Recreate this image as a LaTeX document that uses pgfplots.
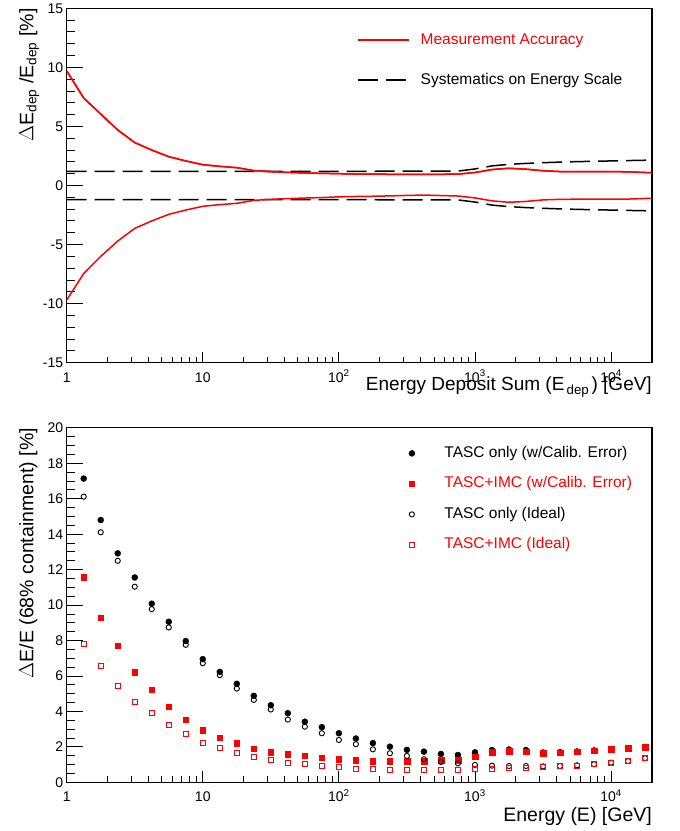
\documentclass[border=0pt]{standalone}
\usepackage{fontspec}
\setmainfont{Liberation Sans}
\usepackage{pgfplots}
\usepackage{pgfplotstable}
\pgfplotsset{compat=1.18}

% top panel: measurement accuracy (upper / lower) and systematics
\pgfplotstableread{
x      up     lo
1      9.70  -9.70
1.3335 7.40  -7.45
1.7783 6.05  -6.00
2.3714 4.70  -4.70
3.1623 3.63  -3.63
4.2170 3.00  -3.00
5.6234 2.44  -2.44
7.4989 2.08  -2.08
10     1.76  -1.76
13.335 1.62  -1.62
17.783 1.51  -1.51
23.714 1.26  -1.26
31.623 1.17  -1.17
42.170 1.11  -1.11
56.234 1.06  -1.06
74.989 1.03  -1.02
100    1.00  -0.96
133.35 0.97  -0.93
177.83 0.96  -0.91
237.14 0.95  -0.88
316.23 0.95  -0.84
421.70 0.95  -0.81
562.34 0.95  -0.85
749.89 0.96  -0.89
1000   1.10  -1.05
1333.5 1.35  -1.30
1778.3 1.46  -1.42
2371.4 1.38  -1.35
3162.3 1.25  -1.22
4217.0 1.18  -1.17
5623.4 1.17  -1.16
7498.9 1.17  -1.16
10000  1.17  -1.16
13335  1.16  -1.15
17783  1.10  -1.10
20000  1.08  -1.09
}\accuracy

\pgfplotstableread{
x      up    lo
1      1.20 -1.20
100    1.20 -1.20
749.89 1.22 -1.22
1000   1.40 -1.40
1333.5 1.66 -1.66
1778.3 1.79 -1.79
2371.4 1.87 -1.87
3162.3 1.93 -1.93
4217.0 1.98 -1.98
5623.4 2.02 -2.02
7498.9 2.05 -2.05
10000  2.08 -2.08
13335  2.11 -2.11
20000  2.15 -2.15
}\syst

% bottom panel: resolution
\pgfplotstableread{
x      bf     rf     bo     ro
1.3335 17.14  11.56  16.12  7.78
1.7783 14.80  9.28   14.11  6.57
2.3714 12.92  7.72   12.50  5.46
3.1623 11.56  6.20   11.04  4.56
4.2170 10.08  5.22   9.77   3.92
5.6234 9.06   4.26   8.74   3.26
7.4989 7.97   3.54   7.76   2.71
10     6.95   2.94   6.72   2.24
13.335 6.23   2.52   6.05   1.94
17.783 5.56   2.22   5.29   1.68
23.714 4.88   1.90   4.65   1.45
31.623 4.35   1.69   4.11   1.26
42.170 3.90   1.58   3.54   1.09
56.234 3.42   1.50   3.14   1.02
74.989 3.11   1.39   2.77   0.90
100    2.77   1.32   2.39   0.84
133.35 2.47   1.26   2.15   0.77
177.83 2.21   1.20   1.86   0.73
237.14 2.01   1.19   1.64   0.72
316.23 1.83   1.20   1.49   0.72
421.70 1.73   1.20   1.30   0.70
562.34 1.60   1.25   1.15   0.70
749.89 1.54   1.24   1.07   0.70
1000   1.69   1.45   0.98   0.74
1333.5 1.82   1.69   0.94   0.78
1778.3 1.85   1.77   0.92   0.79
2371.4 1.82   1.73   0.92   0.81
3162.3 1.68   1.64   0.90   0.87
4217.0 1.70   1.68   0.92   0.92
5623.4 1.74   1.73   0.96   0.94
7498.9 1.80   1.79   1.02   1.02
10000  1.87   1.86   1.11   1.11
13335  1.93   1.92   1.20   1.20
17783  1.99   1.98   1.36   1.36
}\resol

\begin{document}
\begin{tikzpicture}

\begin{axis}[
  width=585.3pt, height=354.4pt, scale only axis,
  at={(66.7pt,468.3pt)}, anchor=south west,
  xmode=log, xmin=1, xmax=20000,
  ymin=-15, ymax=15,
  xtick={1,10,100,1000,10000},
  xticklabels={1,10,10\textsuperscript{2},10\textsuperscript{3},10\textsuperscript{4}},
  ytick={-15,-10,-5,0,5,10,15},
  yticklabels={-15,-10,-5,0,5,10,15},
  minor y tick num=4,
  xtick pos=bottom, ytick pos=left, tick align=inside,
  major tick length=16.5pt, minor tick length=8.3pt,
  every major x tick/.append style={/pgfplots/major tick length=11pt},
  every minor x tick/.append style={/pgfplots/minor tick length=6pt},
  axis line style={line width=1.1pt},
  tick style={black, line width=0.9pt},
  ticklabel style={font=\fontsize{14}{17}\selectfont},
  xticklabel style={anchor=base, yshift=-19.5pt},
  xlabel={Energy Deposit Sum (E\textsubscript{\,dep\,}) [GeV]},
  xlabel style={at={(axis description cs:1,-0.078)}, anchor=base east, inner sep=0pt, font=\fontsize{19}{22}\selectfont},
  ylabel={$\Delta$E\textsubscript{dep} /E\textsubscript{dep} [\%]},
  ylabel style={at={(axis description cs:-0.0571,1)}, anchor=base east, inner sep=0pt, font=\fontsize{19.5}{23}\selectfont},
  legend cell align=left,
  legend style={at={(axis description cs:0.496,0.9317)}, anchor=north west,
    draw=none, fill=none, inner sep=0pt, row sep=25pt, column sep=11pt,
    font=\fontsize{15.5}{18}\selectfont,
    nodes={inner sep=0pt, text height=11.5pt, text depth=3.5pt}},
  legend image code/.code={\draw[#1] (0pt,0pt) -- (51pt,0pt);},
]
\addplot[red, line width=1.5pt] table[x=x, y=up] {\accuracy};
\addlegendentry{\textcolor{red}{Measurement Accuracy}}
\addplot[black, line width=1.5pt, dash pattern=on 20pt off 8pt] table[x=x, y=up] {\syst};
\addlegendentry{Systematics on Energy Scale}
\addplot[black, line width=1.5pt, dash pattern=on 20pt off 8pt, forget plot] table[x=x, y=lo] {\syst};
\addplot[red, line width=1.5pt, forget plot] table[x=x, y=lo] {\accuracy};
\addplot[red, line width=1.5pt, forget plot] table[x=x, y=up] {\accuracy};
\end{axis}

\begin{axis}[
  width=585.3pt, height=354.4pt, scale only axis,
  at={(66.7pt,48.7pt)}, anchor=south west,
  xmode=log, xmin=1, xmax=20000,
  ymin=0, ymax=20,
  xtick={1,10,100,1000,10000},
  xticklabels={1,10,10\textsuperscript{2},10\textsuperscript{3},10\textsuperscript{4}},
  ytick={0,2,4,6,8,10,12,14,16,18,20},
  yticklabels={0,2,4,6,8,10,12,14,16,18,20},
  minor y tick num=3,
  xtick pos=bottom, ytick pos=left, tick align=inside,
  major tick length=16.5pt, minor tick length=8.3pt,
  every major x tick/.append style={/pgfplots/major tick length=11pt},
  every minor x tick/.append style={/pgfplots/minor tick length=6pt},
  axis line style={line width=1.1pt},
  tick style={black, line width=0.9pt},
  ticklabel style={font=\fontsize{14}{17}\selectfont},
  xticklabel style={anchor=base, yshift=-19.5pt},
  xlabel={Energy (E) [GeV]},
  xlabel style={at={(axis description cs:1,-0.1112)}, anchor=base east, inner sep=0pt, font=\fontsize{19.5}{23}\selectfont},
  ylabel={$\Delta$E/E (68\% containment) [\%]},
  ylabel style={at={(axis description cs:-0.0571,1)}, anchor=base east, inner sep=0pt, font=\fontsize{19.5}{23}\selectfont},
  legend cell align=left,
  legend style={at={(axis description cs:0.5843,0.9498)}, anchor=north west,
    draw=none, fill=none, inner sep=0pt, row sep=15.5pt, column sep=29.6pt,
    font=\fontsize{15.5}{18}\selectfont,
    nodes={inner sep=0pt, text height=11.5pt, text depth=3.5pt}},
  legend image code/.code={\draw[#1] plot coordinates {(0pt,0pt)};},
]
\addplot[only marks, mark=*, mark size=3pt, black] table[x=x, y=bf] {\resol};
\addlegendentry{TASC only (w/Calib. Error)}
\addplot[only marks, mark=square*, mark size=2.8pt, red] table[x=x, y=rf] {\resol};
\addlegendentry{\textcolor{red}{TASC+IMC (w/Calib. Error)}}
\addplot[only marks, mark=o, mark size=2.6pt, black, mark options={line width=0.9pt}] table[x=x, y=bo] {\resol};
\addlegendentry{TASC only (Ideal)}
\addplot[only marks, mark=square, mark size=2.5pt, red, mark options={line width=0.9pt}] table[x=x, y=ro] {\resol};
\addlegendentry{\textcolor{red}{TASC+IMC (Ideal)}}
\end{axis}

\pgfresetboundingbox
\useasboundingbox (0,0) rectangle (680pt,831pt);
\end{tikzpicture}
\end{document}
